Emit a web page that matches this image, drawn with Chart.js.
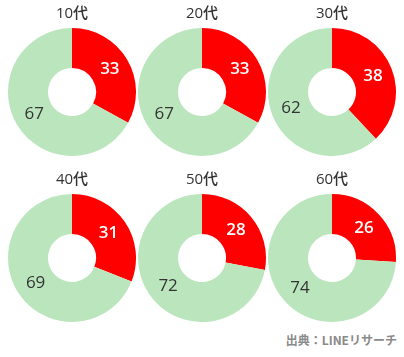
<!DOCTYPE html>
<html><head><meta charset="utf-8">
<script src="https://cdn.jsdelivr.net/npm/chart.js@4"></script>
<style>
html,body{margin:0;padding:0;background:#fff;width:404px;height:357px;overflow:hidden;}
.c{position:absolute;width:130px;height:156px;}
#src{position:absolute;right:7px;top:331px;font:bold 12px "Noto Sans CJK JP",sans-serif;color:#8a8a8a;}
</style></head><body>
<div class="c" style="left:7px;top:0px"><canvas id="c0"></canvas></div>
<div class="c" style="left:137px;top:0px"><canvas id="c1"></canvas></div>
<div class="c" style="left:267px;top:0px"><canvas id="c2"></canvas></div>
<div class="c" style="left:7px;top:166px"><canvas id="c3"></canvas></div>
<div class="c" style="left:137px;top:166px"><canvas id="c4"></canvas></div>
<div class="c" style="left:267px;top:166px"><canvas id="c5"></canvas></div>
<div id="src">出典：LINEリサーチ</div>
<script>
const ageGroups = ["10代","20代","30代","40代","50代","60代"];
const redValues = [33,33,38,31,28,26];
const greenValues = [67,67,62,69,72,74];

const labelPlugin = {
  id:'sliceLabels',
  afterDatasetsDraw(chart){
    const ctx = chart.ctx;
    const meta = chart.getDatasetMeta(0);
    const ds = chart.data.datasets[0];
    ctx.save();
    ctx.textAlign='center'; ctx.textBaseline='middle';
    meta.data.forEach((arc,i)=>{
      const p = arc.tooltipPosition();
      ctx.font = (i===0?'600 ':'500 ') + '17px "Open Sans", "Noto Sans CJK JP", sans-serif';
      ctx.fillStyle = i===0 ? '#ffffff' : '#333333';
      ctx.fillText(String(ds.data[i]), p.x, p.y);
    });
    ctx.restore();
  }
};

ageGroups.forEach((g,i)=>{
  new Chart(document.getElementById('c'+i),{
    type:'doughnut',
    data:{labels:['はい','いいえ'],datasets:[{data:[redValues[i],greenValues[i]],backgroundColor:['#ff0000','#bbe6bd'],borderWidth:0}]},
    options:{
      responsive:true,maintainAspectRatio:false,animation:false,
      cutout:'37.5%',
      layout:{padding:0},
      plugins:{
        legend:{display:false},tooltip:{enabled:false},
        title:{display:true,text:g,color:'#333',font:{family:'"Open Sans", "Noto Sans CJK JP", sans-serif',size:15,weight:'500',lineHeight:1.2},padding:{top:5,bottom:5}}
      }
    },
    plugins:[labelPlugin]
  });
});
</script>
</body></html>
